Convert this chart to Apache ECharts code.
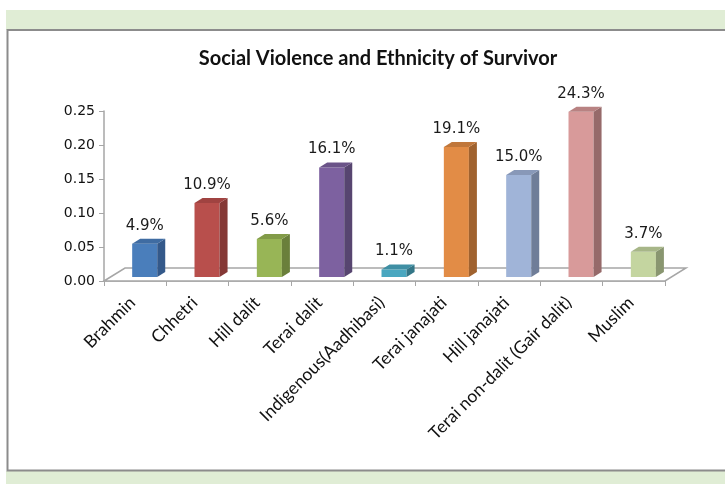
<!DOCTYPE html>
<html><head><meta charset="utf-8">
<script src="https://cdn.jsdelivr.net/npm/echarts@6/dist/echarts.min.js"></script>
<style>html,body{margin:0;padding:0;background:#fff}#c{width:725px;height:484px}</style>
</head><body><div id="c"></div>
<script>
const categories = ['Brahmin','Chhetri','Hill dalit','Terai dalit','Indigenous(Aadhibasi)','Terai janajati','Hill janajati','Terai non-dalit (Gair dalit)','Muslim'];
const values = [0.049,0.109,0.056,0.161,0.011,0.191,0.150,0.243,0.037];
const yTicks = [0,0.05,0.10,0.15,0.20,0.25];
const frontColors = ['#4A7EBB','#B84F4C','#98B556','#7D61A0','#4AA7C0','#E28C46','#A0B4D8','#D89A9A','#C4D5A0'];
const sideColors  = ['#34598A','#853836','#6A7F3B','#574570','#337687','#A0622F','#6F7D98','#966A6A','#899670'];
const topColors   = ['#3F6CA2','#A04341','#829B48','#6A5388','#3F8FA4','#C0773B','#8898B8','#B88282','#A7B688'];

const chart = echarts.init(document.getElementById('c'));
const FONT_NUM = 'DejaVu Sans';
const FONT_TXT = 'Lato';

function barItem(params, api) {
  const idx = api.value(0), v = api.value(1);
  const base = api.coord([idx, 0]);
  const top = api.coord([idx, v]);
  const bw = api.size([1, 0])[0];
  const x0 = base[0] - bw * 0.048, x1 = base[0] + bw * 0.354;
  const y0 = base[1] - 4, y1 = top[1] - 4;
  const dx = 8, dy = -5;
  return {type: 'group', children: [
    {type: 'rect', shape: {x: x0, y: y1, width: x1 - x0, height: y0 - y1}, style: {fill: frontColors[idx]}},
    {type: 'polygon', shape: {points: [[x1, y0], [x1, y1], [x1 + dx, y1 + dy], [x1 + dx, y0 + dy]]}, style: {fill: sideColors[idx]}},
    {type: 'polygon', shape: {points: [[x0, y1], [x1, y1], [x1 + dx, y1 + dy], [x0 + dx, y1 + dy]]}, style: {fill: topColors[idx]}},
    {type: 'text', x: (x0 + x1) / 2, y: y1 + dy - 13, style: {text: (v * 100).toFixed(1) + '%', fill: '#1a1a1a', font: '15px "' + FONT_NUM + '"', align: 'center', verticalAlign: 'middle'}}
  ]};
}

function floorItem(params, api) {
  const cs = params.coordSys;
  const a = api.coord([0, 0]);
  const xl = cs.x, xr = cs.x + cs.width, yb = a[1];
  const dx = 21, dy = -13;
  return {type: 'polygon', shape: {points: [[xl, yb], [xl + dx, yb + dy], [xr + dx, yb + dy], [xr, yb]]},
    style: {fill: '#fff', stroke: '#A6A6A6', lineWidth: 1.5}, z2: 0};
}

chart.setOption({
  animation: false,
  backgroundColor: '#fff',
  graphic: [
    {type: 'rect', z: -10, shape: {x: 6, y: 10, width: 719, height: 20}, style: {fill: '#E0EDD5'}},
    {type: 'rect', z: -10, shape: {x: 6, y: 471, width: 719, height: 13}, style: {fill: '#E0EDD5'}},
    {type: 'polyline', z: -9, shape: {points: [[725, 30], [7.5, 30], [7.5, 470.5], [725, 470.5]]}, style: {stroke: '#8C8C8C', lineWidth: 2, fill: null}}
  ],
  title: {
    text: 'Social Violence and Ethnicity of Survivor',
    left: 373, top: 44, textAlign: 'center',
    textStyle: {fontFamily: FONT_TXT, fontWeight: 'bold', fontSize: 20, color: '#111'}
  },
  grid: {left: 104, right: 60, top: 111, bottom: 203, containLabel: false},
  xAxis: {
    type: 'category', data: categories, boundaryGap: true,
    axisLine: {lineStyle: {color: '#A6A6A6', width: 1.5}},
    axisTick: {show: true, length: 5, lineStyle: {color: '#A6A6A6'}},
    axisLabel: {rotate: 45, interval: 0, margin: 16, padding: [0, 4, 0, 0], fontFamily: FONT_TXT, fontSize: 17.5, color: '#111'}
  },
  yAxis: {
    type: 'value', min: 0, max: 0.25, interval: 0.05,
    axisLine: {show: true, lineStyle: {color: '#A6A6A6', width: 1.5}},
    axisTick: {show: true, length: 5, lineStyle: {color: '#A6A6A6'}},
    splitLine: {show: false},
    axisLabel: {margin: 9, fontFamily: FONT_NUM, fontSize: 14, color: '#111', formatter: v => v.toFixed(2)}
  },
  series: [
    {type: 'custom', renderItem: floorItem, data: [[0, 0]], z: 1, silent: true},
    {type: 'custom', renderItem: barItem, data: values.map((v, i) => [i, v]), z: 2,
     encode: {x: 0, y: 1}}
  ]
});
</script></body></html>
